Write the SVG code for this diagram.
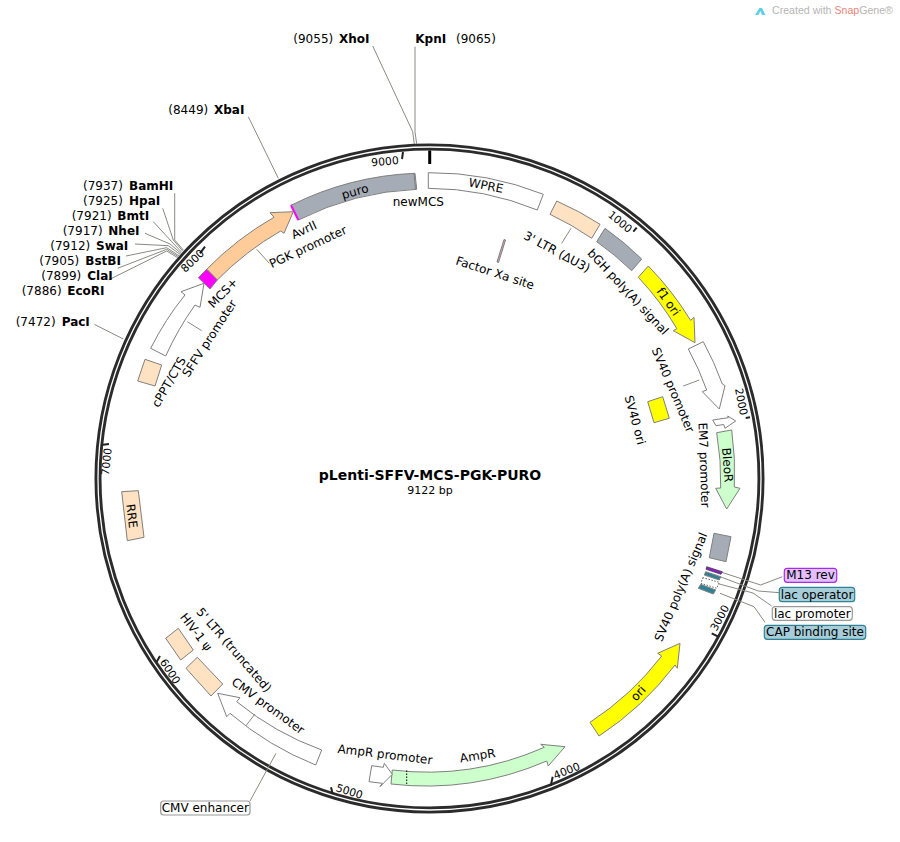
<svg xmlns="http://www.w3.org/2000/svg" width="900" height="842" viewBox="0 0 900 842">
<style>
text{font-family:"DejaVu Sans","Liberation Sans",sans-serif;font-size:12px;fill:#000}
.c{text-anchor:middle;dominant-baseline:central}
.b{font-weight:bold}
.f{stroke:#7f7f7f;stroke-width:1}
.w{fill:#fff}.tan{fill:#ffe2c2}.gray{fill:#a6acb6}.yel{fill:#ff0}.grn{fill:#ccffcc}.org{fill:#ffcc99}.teal{fill:#2f8296}
.l{fill:none;stroke:#8a8a84;stroke-width:1}
.tick{stroke:#222;stroke-width:2;fill:none}
#ticks text{font-size:10.8px}
.box{stroke-width:1.2}
</style>
<rect width="900" height="842" fill="#fff"/>
<g id="watermark">
<path d="M755,15L759.5,8H762L765.5,15H762L760.5,11L758.5,15Z" fill="#5fd0e6"/>
<text x="772" y="14" style="font-family:'Liberation Sans',sans-serif;font-size:10.6px;fill:#b5b5b5">Created with <tspan style="fill:#e8867c">Snap</tspan>Gene®</text>
</g>
<g id="backbone">
<circle cx="429.5" cy="478.5" r="331.5" fill="none" stroke="#2b2b2b" stroke-width="7"/>
<circle cx="429.5" cy="478.5" r="331.5" fill="none" stroke="#fff" stroke-width="1.3"/>
<path d="M429.7,150.5V164" stroke="#000" stroke-width="3" fill="none"/>
</g>
<g id="ticks">
<path class="tick" d="M403,152L402,159M633.3,231.7L636.7,227.7M745.7,418L750,417.3M711.7,633.3L718.3,636.7M550.7,785.7L552.7,776.7M331,787.3L332.7,794M156.7,661.7L160,656M101,445L109,444M200,253.3L205,246.7"/>
<text class="c" transform="translate(385 161.7) rotate(-4.8)">9000</text>
<text class="c" transform="translate(620 222) rotate(39.5)">1000</text>
<text class="c" transform="translate(741 401.7) rotate(78.9)">2000</text>
<text class="c" transform="translate(720 618) rotate(-61.6)">3000</text>
<text class="c" transform="translate(566.7 771) rotate(-22.1)">4000</text>
<text class="c" transform="translate(349.3 791.7) rotate(17.3)">5000</text>
<text class="c" transform="translate(170 671.7) rotate(56.8)">6000</text>
<text class="c" transform="translate(106.7 461.7) rotate(-83.8)">7000</text>
<text class="c" transform="translate(192.7 261) rotate(-44.3)">8000</text>
</g>
<g id="connectors">
<path class="l" d="M248.3,116.7L278.3,178.3"/>
<path class="l" d="M94.3,324.3L123.3,339"/>
<path class="l" d="M174.7,193.3V240L183.3,250"/>
<path class="l" d="M162.7,208.3L173.3,240L182.7,251"/>
<path class="l" d="M153.3,221.7L171.7,241.7L181.7,252.3"/>
<path class="l" d="M145,233.3L170,244L181,253.3"/>
<path class="l" d="M135,244L168.3,245.7L180,254.3"/>
<path class="l" d="M126,256L166.7,247.7L179,255.7"/>
<path class="l" d="M117.7,268.3L166.7,249.3L178.3,256.7"/>
<path class="l" d="M108.3,280L166.7,251L177.7,257.7"/>
<path class="l" d="M372.7,46L412.7,131.7L414.3,144"/>
<path class="l" d="M415,46.7V131.7L416.7,144"/>
<path class="l" d="M721.7,572.3L760.7,585L782.3,576.7"/>
<path class="l" d="M720,576.7L758.3,591L779.3,592.7"/>
<path class="l" d="M716.7,583.3L753,593L771.7,606"/>
<path class="l" d="M720,593.3L754,606.7L765,622.3"/>
<path class="l" d="M276,753.3L250,801"/>
<path class="l" d="M256.7,249.3L269.3,263.3"/>
<path class="l" d="M571,228.3L561.7,243.3"/>
<path class="l" d="M699.3,380L683.3,386"/>
<path class="l" d="M187.3,321.7L201.7,330.7"/>
</g>
<g id="puro">
<path class="f gray" d="M291,205.3A305,305 0 0 1 415,173.3L416.7,189.3A290,290 0 0 0 298.3,220Z"/>
<path d="M291,205.3L298.3,220" stroke="#ff00ff" stroke-width="2" fill="none"/>
<text class="c" transform="translate(355 191.7) rotate(-16)">puro</text>
<text class="c" transform="translate(304 230) rotate(-25)">AvrII</text>
</g>
<g id="newMCS">
<path d="M414,173.5L415.5,189.5" stroke="#7f7f7f" stroke-width="1" fill="none"/>
<text class="c" x="418.3" y="201.7">newMCS</text>
</g>
<g id="WPRE">
<path class="f w" d="M428.3,172.7A305,305 0 0 1 543.3,194.3L537.3,210A290,290 0 0 0 428.3,188.3Z"/>
<text class="c" transform="translate(486 185.7) rotate(11)">WPRE</text>
</g>
<g id="LTR3">
<path class="f tan" d="M556.7,201A305,305 0 0 1 600,224.3L591.7,238.3A290,290 0 0 0 550,214.3Z"/>
<text class="c" transform="translate(557 252) rotate(28)">3' LTR (ΔU3)</text>
</g>
<g id="bGH">
<path class="f gray" d="M605,228.3A305,305 0 0 1 641.7,259L631.7,270.7A290,290 0 0 0 596.7,241.7Z"/>
<text class="c" transform="translate(628 292) rotate(47)">bGH poly(A) signal</text>
</g>
<g id="Xa">
<path d="M504,239.5L505.5,240L498.5,262.5L497,262Z" fill="#d9a3b3" stroke="#7f7f7f"/>
<text class="c" transform="translate(495 273) rotate(18)">Factor Xa site</text>
</g>
<g id="f1ori">
<path class="f yel" d="M648.3,266A305,305 0 0 1 690.6,320.4L694,317.3L695,342.7L673.3,330.7L676.9,328.7A290,290 0 0 0 638.3,277.3Z"/>
<text class="c" transform="translate(668.3 301.7) rotate(55)">f1 ori</text>
</g>
<g id="SV40p">
<path class="f w" d="M703.3,341.7A305,305 0 0 1 722.3,384L725,385.7L719.3,409L702.3,391.7L706.7,390A290,290 0 0 0 688.3,349Z"/>
<text class="c" transform="translate(673 390) rotate(67)">SV40 promoter</text>
</g>
<g id="SV40ori">
<path class="f yel" d="M647.7,401.7L662.7,396.7L669.3,418.3L654,422.7Z"/>
<text class="c" transform="translate(635 420) rotate(75)">SV40 ori</text>
</g>
<g id="EM7">
<path class="f w" d="M712.7,420L728.3,417.7L727.7,416L735.7,421L725,428.3L723.7,424.5L716,425.7Z"/>
<text class="c" transform="translate(704 465) rotate(88)">EM7 promoter</text>
</g>
<g id="BleoR">
<path class="f grn" d="M716.7,432.7L731.7,430A305,305 0 0 1 734.3,487L740,488.3L726.7,509L715.7,488.3L720.7,488A290,290 0 0 0 716.7,432.7Z"/>
<text class="c" transform="translate(727.3 465) rotate(86)">BleoR</text>
</g>
<g id="SV40pA">
<path class="f gray" d="M714,533.3L731,536.7L726,561.7L709.3,557.7Z"/>
<text class="c" transform="translate(681 587) rotate(-67)">SV40 poly(A) signal</text>
</g>
<g id="M13rev">
<path d="M706.7,566.7L722.3,571.7L721,574.3L706,569.3Z" fill="#8a1fc4" stroke="#333" stroke-width=".7"/>
<rect class="box" x="784.3" y="568.3" width="52.4" height="14" rx="3" fill="#e3bfff" stroke="#a62ce8"/>
<text class="c" x="810.5" y="575.3">M13 rev</text>
</g>
<g id="lacO">
<path class="f teal" d="M705.7,571.7L720.7,576.7L719.3,580L704.3,575Z"/>
<rect class="box" x="779.3" y="587.3" width="75.4" height="14.4" rx="3" fill="#a6cdd8" stroke="#2f8296"/>
<text class="c" x="817" y="594.5">lac operator</text>
</g>
<g id="lacP">
<path d="M702.7,577.7L719.3,582.3L716.7,588.3L701,583.3Z" fill="#fff" stroke="#666" stroke-dasharray="1.5 1.5"/>
<rect class="box" x="772.3" y="606.7" width="80" height="13.6" rx="3" fill="#fff" stroke="#999"/>
<text class="c" x="812.3" y="613.5">lac promoter</text>
</g>
<g id="CAP">
<path class="f teal" d="M700.7,584.3L715.7,590L713.3,594L698.3,588.3Z"/>
<rect class="box" x="764.3" y="625.3" width="101.4" height="14" rx="3" fill="#a6cdd8" stroke="#2f8296"/>
<text class="c" x="815" y="632.3">CAP binding site</text>
</g>
<g id="ori">
<path class="f yel" d="M599,736A305,305 0 0 0 675,665L677.3,668.3L680,643.3L657.7,653.3L661.7,656A290,290 0 0 1 590,722.3Z"/>
<text class="c" transform="translate(638.3 693.3) rotate(-48)">ori</text>
</g>
<g id="AmpR">
<path class="f grn" d="M392.3,770A290,290 0 0 0 544.3,747.3L540.7,744.3L565,746.7L548.3,766L546.7,761A305,305 0 0 1 391,784Z"/>
<path d="M406.7,770.5V785.5" stroke="#000" stroke-width="1" stroke-dasharray="1.5 1.5" fill="none"/>
<text class="c" transform="translate(477.7 755.7) rotate(-9)">AmpR</text>
</g>
<g id="AmpRp">
<path class="f w" d="M371.7,765.7L383.3,767.3L384.3,763.3L392.3,774.3L380,786.7L382.3,783.3L369,781.7Z"/>
<text class="c" transform="translate(385 754.5) rotate(7)">AmpR promoter</text>
</g>
<g id="CMV">
<path class="f w" d="M217.7,693.3L240,697.7L236.7,701.7A290,290 0 0 0 321.7,750L315.7,765A305,305 0 0 1 230,713.3L226.7,716.7Z"/>
<path class="l" d="M255,714L245.7,726"/>
<text class="c" transform="translate(268 706) rotate(36)">CMV promoter</text>
<rect class="box" x="160.7" y="801" width="89.3" height="14" rx="3" fill="#fff" stroke="#999"/>
<text class="c" x="205.3" y="808">CMV enhancer</text>
</g>
<g id="LTR5">
<path class="f tan" d="M186,668.3L197.3,657.3L222.7,684L211,696Z"/>
<text class="c" transform="translate(234 650) rotate(49)">5' LTR (truncated)</text>
</g>
<g id="psi">
<path class="f tan" d="M165.7,638.3L178.3,628.3L193.3,650L180.7,660Z"/>
<text class="c" transform="translate(196 632) rotate(52)">HIV-1 ψ</text>
</g>
<g id="RRE">
<path class="f tan" d="M121.7,491.7L138.3,490.7L144,537.3L127.3,540.7Z"/>
<text class="c" transform="translate(131.7 516) rotate(83)">RRE</text>
</g>
<g id="cPPT">
<path class="f tan" d="M145,359.3L161.7,365L155,386L137.7,381Z"/>
<text class="c" transform="translate(169 382) rotate(-60)">cPPT/CTS</text>
</g>
<g id="SFFV">
<path class="f w" d="M150.7,348.3A290,290 0 0 1 185,295L181,291.7L204,283.3L200,307.3L195,305A305,305 0 0 0 165.7,356Z"/>
<text class="c" transform="translate(209.5 338.5) rotate(-57)">SFFV promoter</text>
</g>
<g id="PGK">
<path class="f org" d="M206.7,269.3A305,305 0 0 1 274,217.3L270,212.7L293.3,211.7L284,233.3L280.7,231A290,290 0 0 0 217.3,280Z"/>
<text class="c" transform="translate(308 247) rotate(-25)">PGK promoter</text>
</g>
<g id="MCS">
<path class="f" fill="#ff00ff" d="M206.7,269.3L217.3,280L210,289L198.3,277.7Z"/>
<text class="c" transform="translate(223 293) rotate(-46)">MCS+</text>
</g>
<g id="sites">
<text x="83" y="190">(7937)</text><text class="b" x="129" y="190">BamHI</text>
<text x="83" y="205">(7925)</text><text class="b" x="129" y="205">HpaI</text>
<text x="71.7" y="220">(7921)</text><text class="b" x="117.3" y="220">BmtI</text>
<text x="62.7" y="235">(7917)</text><text class="b" x="108.3" y="235">NheI</text>
<text x="50.3" y="250">(7912)</text><text class="b" x="96" y="250">SwaI</text>
<text x="39.3" y="265">(7905)</text><text class="b" x="85.3" y="265">BstBI</text>
<text x="41.3" y="280">(7899)</text><text class="b" x="87.3" y="280">ClaI</text>
<text x="21.7" y="295">(7886)</text><text class="b" x="67.3" y="295">EcoRI</text>
<text x="15.7" y="326">(7472)</text><text class="b" x="61.7" y="326">PacI</text>
<text x="168.3" y="114">(8449)</text><text class="b" x="214" y="114">XbaI</text>
<text x="293.3" y="43">(9055)</text><text class="b" x="339" y="43">XhoI</text>
<text class="b" x="415.3" y="43">KpnI</text><text x="456" y="43">(9065)</text>
</g>
<g id="title">
<text class="b" x="430" y="480" text-anchor="middle" style="font-size:14px">pLenti-SFFV-MCS-PGK-PURO</text>
<text x="430" y="494" text-anchor="middle" style="font-size:11px">9122 bp</text>
</g>
</svg>
